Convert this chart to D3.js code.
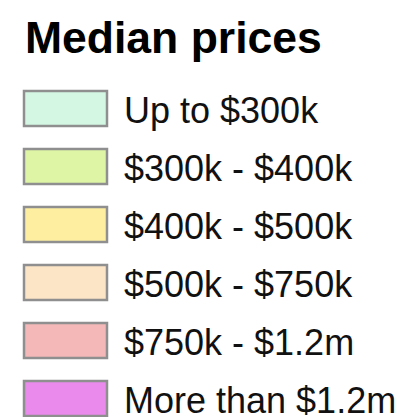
<!DOCTYPE html>
<html><head><meta charset="utf-8">
<script src="https://cdn.jsdelivr.net/npm/d3@7"></script>
<style>body{margin:0;background:#fff;}</style>
</head><body>
<script>
const title = "Median prices";
const categories = ["Up to $300k", "$300k - $400k", "$400k - $500k", "$500k - $750k", "$750k - $1.2m", "More than $1.2m"];
const colors = ["#d4f7e4", "#def5a6", "#fdeea0", "#fce4c6", "#f4b8b8", "#e98aec"];

const W = 405, H = 417;
const svg = d3.select("body").append("svg").attr("width", W).attr("height", H);

svg.append("text").attr("x", 25).attr("y", 53)
  .attr("font-family", "Liberation Sans, Arial, sans-serif")
  .attr("font-weight", "bold").attr("font-size", 44.5).attr("fill", "#000")
  .text(title);

const y = d3.scaleBand().domain(categories).range([80, 428]).paddingInner(0);
const color = d3.scaleOrdinal().domain(categories).range(colors);

const g = svg.selectAll("g.item").data(categories).join("g").attr("class", "item")
  .attr("transform", d => `translate(0,${y(d)})`);

g.append("rect").attr("x", 24).attr("y", 11).attr("width", 83).attr("height", 35)
  .attr("fill", d => color(d)).attr("stroke", "#8f8f8f").attr("stroke-width", 2.5);

g.append("text").attr("x", 124).attr("y", 43)
  .attr("font-family", "Liberation Sans, Arial, sans-serif")
  .attr("font-size", 36).attr("fill", "#111")
  .text(d => d);
</script>
</body></html>
